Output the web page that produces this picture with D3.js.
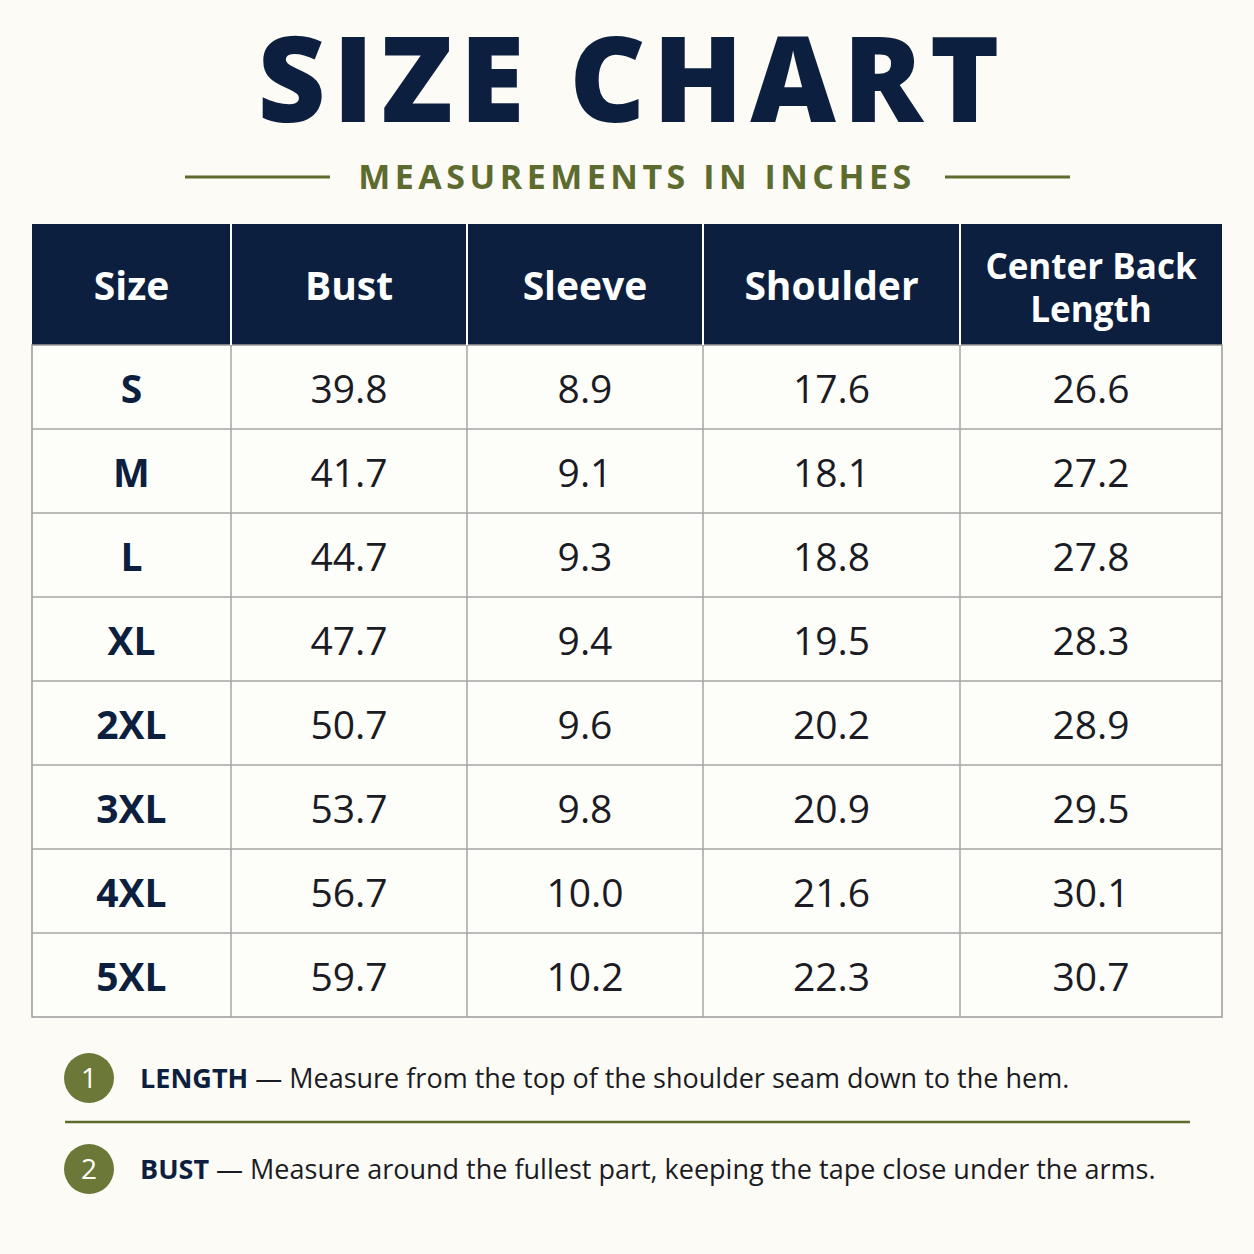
<!DOCTYPE html>
<html><head><meta charset="utf-8">
<script src="https://cdn.jsdelivr.net/npm/d3@7"></script>
<style>body{margin:0;background:#fcfbf6}</style></head>
<body><svg id="c" width="1254" height="1254"></svg>
<script>
const headers = ["Size","Bust","Sleeve","Shoulder","Center Back|Length"];
const sizes = ["S","M","L","XL","2XL","3XL","4XL","5XL"];
const bust = ["39.8","41.7","44.7","47.7","50.7","53.7","56.7","59.7"];
const sleeve = ["8.9","9.1","9.3","9.4","9.6","9.8","10.0","10.2"];
const shoulder = ["17.6","18.1","18.8","19.5","20.2","20.9","21.6","22.3"];
const cbl = ["26.6","27.2","27.8","28.3","28.9","29.5","30.1","30.7"];
const notes = [["1","LENGTH","Measure from the top of the shoulder seam down to the hem."],["2","BUST","Measure around the fullest part, keeping the tape close under the arms."]];

const navy="#0c1f3f", olive="#5d6b2f", font="'Open Sans', 'DejaVu Sans', sans-serif";
const svg=d3.select("#c");
svg.append("rect").attr("width",1254).attr("height",1254).attr("fill","#fcfbf6");
svg.append("text").attr("x",632).attr("y",122).attr("text-anchor","middle").attr("font-family",font)
 .attr("font-weight",800).attr("font-size",118).attr("fill",navy).attr("letter-spacing",7).text("SIZE CHART");
svg.append("text").attr("x",637).attr("y",189).attr("text-anchor","middle").attr("font-family",font)
 .attr("font-weight",700).attr("font-size",34).attr("fill",olive).attr("letter-spacing",4.5).text("MEASUREMENTS IN INCHES");
[[185,330],[945,1070]].forEach(([a,b])=>svg.append("line").attr("x1",a).attr("x2",b).attr("y1",177).attr("y2",177).attr("stroke",olive).attr("stroke-width",3));

const colEdges=[32,231,467,703,960,1222];
const cols=[sizes,bust,sleeve,shoulder,cbl];
const y=d3.scaleBand().domain(sizes).range([345,1017]);
svg.append("rect").attr("x",32).attr("y",224).attr("width",1190).attr("height",121).attr("fill",navy);
svg.append("rect").attr("x",32).attr("y",345).attr("width",1190).attr("height",672).attr("fill","#fdfdfa").attr("stroke","#9a9a9a").attr("stroke-width",1.5);
sizes.forEach((s,i)=>{ if(i>0) svg.append("line").attr("x1",32).attr("x2",1222).attr("y1",y(s)).attr("y2",y(s)).attr("stroke","#a5a5a5").attr("stroke-width",1.5);});
colEdges.slice(1,-1).forEach(x=>{
 svg.append("line").attr("x1",x).attr("x2",x).attr("y1",224).attr("y2",345).attr("stroke","#ffffff").attr("stroke-width",2);
 svg.append("line").attr("x1",x).attr("x2",x).attr("y1",345).attr("y2",1017).attr("stroke","#a5a5a5").attr("stroke-width",1.5);
});
headers.forEach((h,j)=>{
 const cx=(colEdges[j]+colEdges[j+1])/2, parts=h.split("|");
 parts.forEach((p,k)=>svg.append("text").attr("x",cx).attr("y",parts.length>1?279+k*43:300).attr("text-anchor","middle")
  .attr("font-family",font).attr("font-weight",700).attr("font-size",parts.length>1?35:39).attr("fill","#fff").text(p));
});
cols.forEach((col,j)=>{
 const cx=(colEdges[j]+colEdges[j+1])/2;
 col.forEach((v,i)=>svg.append("text").attr("x",cx).attr("y",y(sizes[i])+y.bandwidth()/2+16).attr("text-anchor","middle")
  .attr("font-family",font).attr("font-weight",j==0?700:400).attr("font-size",39).attr("fill",j==0?navy:"#1b1b24").text(v));
});
svg.append("line").attr("x1",65).attr("x2",1190).attr("y1",1122).attr("y2",1122).attr("stroke",olive).attr("stroke-width",2.5);
notes.forEach((n,i)=>{
 const cy=[1078,1169][i];
 svg.append("circle").attr("cx",89).attr("cy",cy).attr("r",25).attr("fill","#6b7838");
 svg.append("text").attr("x",89).attr("y",cy+10).attr("text-anchor","middle").attr("font-family",font).attr("font-size",28).attr("fill","#fff").text(n[0]);
 const t=svg.append("text").attr("x",140).attr("y",cy+10).attr("font-family",font).attr("font-size",27).attr("fill","#1b1b24");
 t.append("tspan").attr("font-weight",700).attr("fill",navy).text(n[1]);
 t.append("tspan").text(" — "+n[2]);
});
</script></body></html>
